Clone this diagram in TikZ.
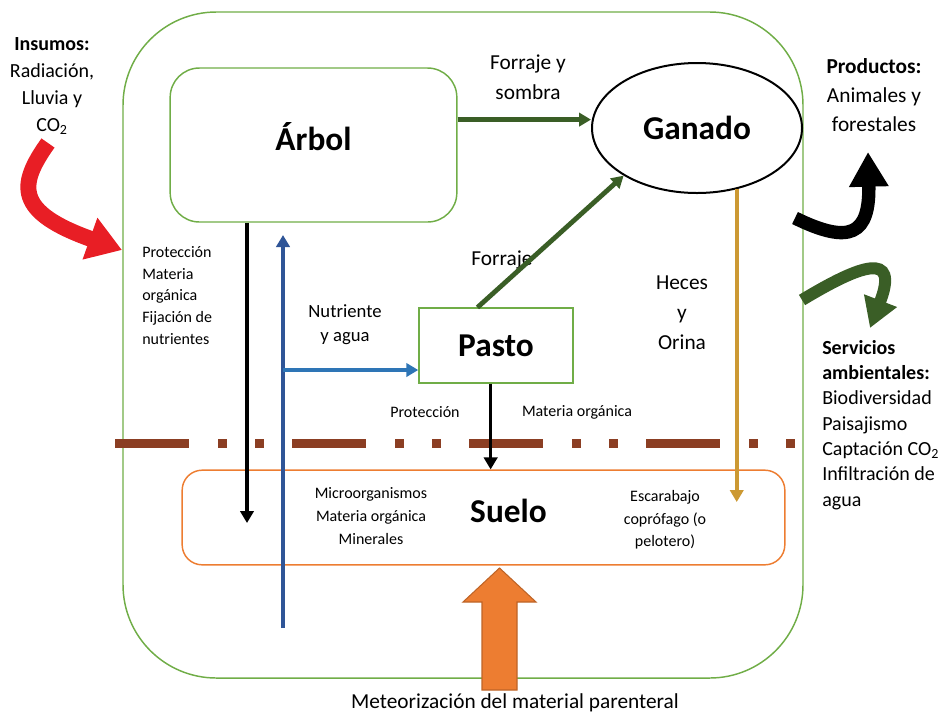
\documentclass[tikz,border=0pt]{standalone}
\usepackage{fontspec}
\setmainfont{Carlito}
\usetikzlibrary{shapes.geometric,arrows.meta}
\definecolor{verde}{RGB}{112,173,71}
\definecolor{verdeosc}{RGB}{58,94,38}
\definecolor{naranja}{RGB}{237,125,49}
\definecolor{cafe}{RGB}{139,62,35}
\definecolor{azul}{RGB}{47,85,151}
\definecolor{azulclaro}{RGB}{46,117,182}
\definecolor{dorado}{RGB}{204,153,51}
\definecolor{rojo}{RGB}{232,30,37}

\begin{document}
\begin{tikzpicture}[x=.75pt,y=-.75pt,
  caja/.style={draw=verde,line width=1.1pt},
  grande/.style={font=\fontsize{25}{30}\selectfont\bfseries},
  texto/.style={align=center,font=\fontsize{16}{22.5}\selectfont},
  chico/.style={align=center,font=\fontsize{12}{17}\selectfont},
  punta/.style={-{Triangle[length=9pt,width=10pt]}}]
  \useasboundingbox (0,0) rectangle (944,719);
  \draw[verde,line width=1.1pt,rounded corners=70pt] (123,12) rectangle (803,678);

  \draw (313.5,145) node[caja,rounded corners=22pt,minimum width=215pt,
    minimum height=115.5pt,label={[grande,yshift=6pt]center:Árbol}] (arbol) {};
  \draw (697,128) node[ellipse,draw,line width=1.5pt,inner sep=0pt,
    minimum width=157.5pt,minimum height=97.5pt,grande] (ganado) {Ganado};
  \draw (496,345.5) node[caja,minimum width=115.5pt,minimum height=56pt,
    grande] (pasto) {Pasto};
  \draw (483.5,517.5) node[draw=naranja,line width=1.1pt,rounded corners=15pt,
    minimum width=452pt,minimum height=71pt,
    label={[grande,xshift=18.75pt,yshift=5pt]center:Suelo}] (suelo) {};

  \draw (52,86) node[texto,font=\fontsize{15}{20.25}\selectfont] (insumos)
    {\textbf{Insumos:}\\Radiación,\\Lluvia y\\CO\textsubscript{2}};
  \draw (874,95) node[texto,font=\fontsize{16}{22}\selectfont] (productos)
    {\textbf{Productos:}\\Animales y\\forestales};
  \draw (822,425) node[anchor=west,align=left,inner sep=0pt,
    font=\fontsize{15}{19}\selectfont] (servicios)
    {\textbf{Servicios}\\\textbf{ambientales:}\\Biodiversidad\\Paisajismo\\
     Captación CO\textsubscript{2}\\Infiltración de\\agua};
  \draw (142,295.5) node[anchor=west,align=left,inner sep=0pt,
    font=\fontsize{12}{16.3}\selectfont] (aportes)
    {Protección\\Materia\\orgánica\\Fijación de\\nutrientes};
  \draw (345,325) node[texto,font=\fontsize{14}{18}\selectfont] (nutriente)
    {Nutriente\\y agua};
  \draw (528,77) node[texto] (forrajesombra) {Forraje y\\sombra};
  \draw (502,260) node[texto] (forraje) {Forraje};
  \draw (682,313) node[texto] (heceslbl) {Heces\\y\\Orina};
  \draw (425,412) node[chico] (proteccion) {Protección};
  \draw (577,412) node[chico] (materia) {Materia orgánica};
  \draw (371,516) node[chico] (micro)
    {Microorganismos\\Materia orgánica\\Minerales};
  \draw (665,520) node[chico] (escarabajo)
    {Escarabajo\\coprófago (o\\pelotero)};
  \draw (515,703) node[texto] (meteorizacion)
    {Meteorización del material parenteral};

  \draw[cafe,line width=6.75pt,
    dash pattern=on 55.5pt off 21.75pt on 6.75pt off 21pt on 6.75pt off 21pt]
    (115,443) -- (795,443);

  \draw[verdeosc,line width=3.4pt,punta] (arbol.10) -- (arbol.10 -| ganado.west);
  \draw[verdeosc,line width=3.6pt,punta] (pasto.116) -- (ganado.213);

  \coordinate (raiz) at (247,523);
  \draw[line width=3pt,punta] (raiz |- arbol.south) -- (raiz);

  \coordinate (raizazul) at (283,628);
  \coordinate (topeazul) at (283,235);
  \coordinate (ramal) at (283,370);
  \draw[azul,line width=3.4pt,punta] (raizazul) -- (topeazul);
  \draw[azulclaro,line width=3.2pt,punta] (ramal) -- (ramal -| pasto.west);

  \draw[line width=2.6pt,punta] (pasto.-98) -- (pasto.-98 |- suelo.north);

  \coordinate (heces) at (735,502);
  \draw[dorado,line width=3pt,punta] (ganado.303) -- (ganado.303 |- heces);

  \filldraw[fill=naranja,draw=naranja!80!black,line width=.8pt]
    (482,690) -- (482,602) -- (463,602) -- (499.5,568) -- (536,602)
    -- (517,602) -- (517,690) -- cycle;

  \draw[rojo,line width=12pt,-{Triangle[width=31.5pt,length=25.5pt]}]
    (48,143) .. controls (18,185) and (15,212) .. (122,250);
  \draw[line width=10pt,-{Triangle[width=28pt,length=26pt]}]
    (795,218) .. controls (850,245) and (870,235) .. (868,152);
  \draw[verdeosc,line width=9pt,-{Triangle[width=25pt,length=22pt]}]
    (802,300) .. controls (860,265) and (900,250) .. (870,328);
\end{tikzpicture}
\end{document}
